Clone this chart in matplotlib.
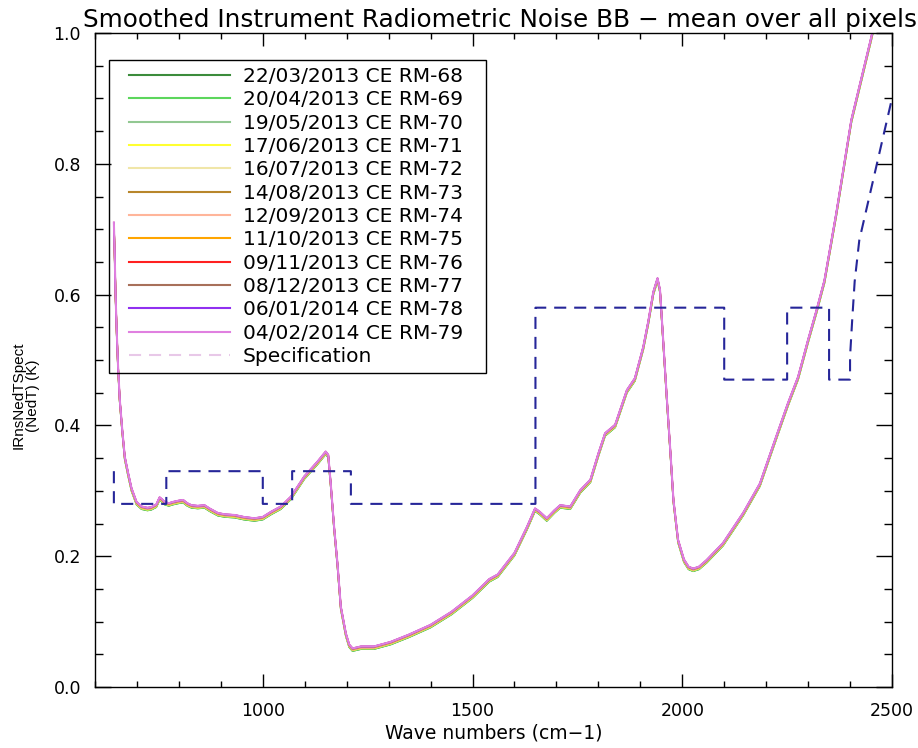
import matplotlib
matplotlib.use("Agg")
import matplotlib.pyplot as plt
from matplotlib.ticker import MultipleLocator, FormatStrFormatter
from matplotlib.lines import Line2D
from matplotlib.patches import Rectangle

# mean smoothed radiometric noise (NedT, K) vs wave number
wavenumber = [645, 647, 649, 652, 655, 659, 665, 671, 679, 687, 699, 711, 725, 734,
              746, 754, 760, 766, 776, 786, 800, 810, 820, 830, 845, 861, 873, 893,
              910, 933, 955, 980, 1000, 1020, 1043, 1067, 1099, 1131, 1150, 1156,
              1162, 1170, 1178, 1186, 1198, 1206, 1214, 1234, 1265, 1305, 1348, 1400,
              1450, 1500, 1540, 1560, 1600, 1630, 1649, 1660, 1677, 1695, 1709, 1733,
              1757, 1781, 1800, 1816, 1840, 1868, 1887, 1907, 1919, 1931, 1941, 1947,
              1953, 1963, 1972, 1979, 1990, 2004, 2015, 2026, 2040, 2058, 2097, 2145,
              2185, 2224, 2252, 2276, 2300, 2320, 2339, 2367, 2403, 2450, 2460]
nedt = [0.71, 0.66, 0.60, 0.54, 0.49, 0.44, 0.393, 0.352, 0.327, 0.304, 0.283, 0.276,
        0.274, 0.275, 0.279, 0.290, 0.287, 0.283, 0.281, 0.283, 0.285, 0.286, 0.281,
        0.278, 0.277, 0.278, 0.273, 0.266, 0.264, 0.263, 0.260, 0.258, 0.260, 0.268,
        0.276, 0.291, 0.322, 0.345, 0.360, 0.355, 0.311, 0.245, 0.189, 0.123, 0.082,
        0.065, 0.059, 0.062, 0.062, 0.069, 0.080, 0.095, 0.115, 0.140, 0.165, 0.172,
        0.205, 0.245, 0.273, 0.268, 0.258, 0.270, 0.278, 0.276, 0.301, 0.317, 0.357,
        0.388, 0.401, 0.454, 0.472, 0.520, 0.559, 0.604, 0.625, 0.607, 0.546, 0.444,
        0.357, 0.286, 0.225, 0.195, 0.184, 0.181, 0.184, 0.194, 0.220, 0.266, 0.311,
        0.383, 0.434, 0.474, 0.531, 0.576, 0.622, 0.724, 0.867, 0.992, 1.02]

# the monthly curves sit almost on top of each other; small shift per date
dates = ["22/03/2013 CE RM-68", "20/04/2013 CE RM-69", "19/05/2013 CE RM-70",
         "17/06/2013 CE RM-71", "16/07/2013 CE RM-72", "14/08/2013 CE RM-73",
         "12/09/2013 CE RM-74", "11/10/2013 CE RM-75", "09/11/2013 CE RM-76",
         "08/12/2013 CE RM-77", "06/01/2014 CE RM-78", "04/02/2014 CE RM-79"]
shift = [-0.004, -0.004, -0.003, -0.003, -0.002, -0.002, -0.002, -0.001, 0.0,
         -0.001, 0.0, 0.0]
colors = ["#3c8c3c", "#5cd65c", "#92c892", "#ffff30", "#f0e6a8", "#b8862b",
          "#ffb59a", "#ffa500", "#ff2020", "#a8705a", "#9030f0", "#e080e0"]

# specification step line
spec_wn = [645, 645, 770, 770, 1000, 1000, 1070, 1070, 1210, 1210, 1650, 1650,
           2100, 2100, 2250, 2250, 2350, 2350, 2400, 2400, 2405, 2411, 2422, 2500]
spec_val = [0.33, 0.28, 0.28, 0.33, 0.33, 0.28, 0.28, 0.33, 0.33, 0.28, 0.28, 0.58,
            0.58, 0.47, 0.47, 0.58, 0.58, 0.47, 0.47, 0.505, 0.56, 0.62, 0.683, 0.90]

fig = plt.figure(figsize=(9.18, 7.48), dpi=100)
ax = fig.add_axes([95/918, 61/748, 797/918, 654/748])

for i in range(len(dates)):
    y = [v + shift[i] for v in nedt]
    lw = 1.5 if i == len(dates) - 1 else 1.2
    ax.plot(wavenumber, y, color=colors[i], lw=lw)

ax.plot(spec_wn, spec_val, color="#262699", lw=1.5, ls=(0, (5.8, 3.8)))

ax.set_xlim(600, 2500)
ax.set_ylim(0, 1)
ax.xaxis.set_major_locator(MultipleLocator(500))
ax.xaxis.set_minor_locator(MultipleLocator(100))
ax.yaxis.set_major_locator(MultipleLocator(0.2))
ax.yaxis.set_minor_locator(MultipleLocator(0.05))
ax.yaxis.set_major_formatter(FormatStrFormatter("%.1f"))
ax.tick_params(which="both", direction="in", top=True, right=True, width=1.0,
               labelsize=12.5, pad=10)
ax.tick_params(axis="x", which="major", length=9.4, pad=11)
ax.tick_params(axis="x", which="minor", length=4.3)
ax.tick_params(axis="y", which="major", length=11.5)
ax.tick_params(axis="y", which="minor", length=6)
for s in ax.spines.values():
    s.set_linewidth(1.0)

ax.set_title("Smoothed Instrument Radiometric Noise BB \u2212 mean over all pixels",
             fontsize=17.8, pad=4, x=0.508)
ax.set_xlabel("Wave numbers (cm\u22121)", fontsize=13.5, labelpad=2)
ax.set_ylabel("IRnsNedTSpect\n(NedT) (K)", fontsize=11, family="Liberation Sans",
              linespacing=1.0)
ax.yaxis.set_label_coords(-0.069, 0.446)

handles = [Line2D([], [], color=c, lw=1.5) for c in colors]
handles.append(Line2D([], [], color="#e8c8e8", lw=1.5, ls=(0, (5.8, 3.8))))
labels = dates + ["Specification"]
ax.legend(handles, labels, loc="upper left", bbox_to_anchor=(34/797, 1 - 34/654),
          frameon=False, fontsize=14.5, handlelength=5.0, handletextpad=0.65,
          labelspacing=0.215, borderpad=0, borderaxespad=0)
ax.add_patch(Rectangle((14/797, 314/654), 377/797, 313/654, transform=ax.transAxes,
                       fill=False, ec="black", lw=1.0, zorder=5))

fig.savefig("out.png", dpi=100)
